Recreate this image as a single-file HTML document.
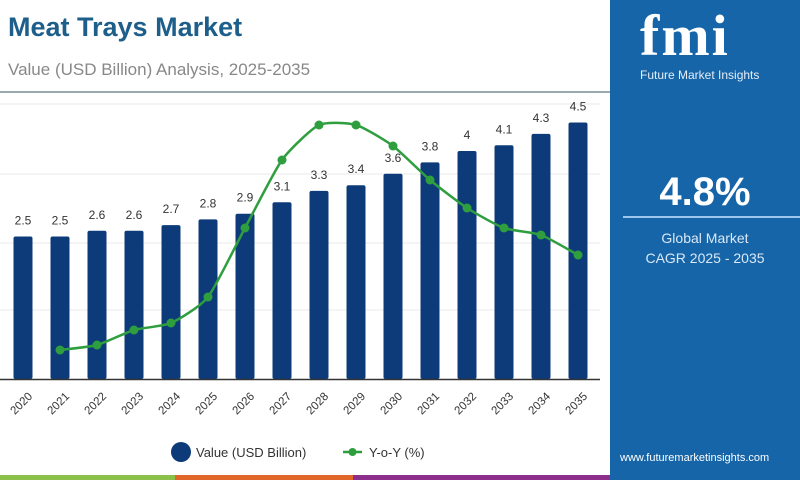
<!DOCTYPE html>
<html><head><meta charset="utf-8">
<style>
body{margin:0;width:800px;height:480px;overflow:hidden;background:#fff;font-family:"Liberation Sans",sans-serif;}
#wrap{position:relative;width:800px;height:480px;}
.t{position:absolute;white-space:nowrap;}
</style></head>
<body>
<div id="wrap">
<div class="t" style="left:8px;top:12px;font-size:27px;font-weight:bold;color:#1d5e8a;">Meat Trays Market</div>
<div class="t" style="left:8px;top:60px;font-size:17px;color:#888;">Value (USD Billion) Analysis, 2025-2035</div>
<div style="position:absolute;left:0;top:91px;width:610px;height:2px;background:#9aa9b0;"></div>
<svg id="chart" width="610" height="480" style="position:absolute;left:0;top:0;"></svg>
<div style="position:absolute;left:610px;top:0;width:190px;height:480px;background:#1565a8;">
  <div class="t" style="left:30px;top:2px;font-size:58px;font-weight:bold;color:#fff;font-family:'Liberation Serif',serif;letter-spacing:2px;">fmi</div>
  <div class="t" style="left:30px;top:68px;font-size:12px;color:#e6eef8;">Future Market Insights</div>
  <div class="t" style="left:0;width:190px;text-align:center;top:170px;font-size:40px;font-weight:bold;color:#fff;">4.8%</div>
  <div style="position:absolute;left:13px;top:216px;width:177px;height:2px;background:#9cc6ee;"></div>
  <div class="t" style="left:0;width:190px;text-align:center;top:228px;font-size:14px;line-height:20px;color:#dbe8f6;">Global Market<br>CAGR 2025 - 2035</div>
  <div class="t" style="left:10px;top:452px;font-size:11px;color:#fff;">www.futuremarketinsights.com</div>
</div>
<div style="position:absolute;left:0;top:475px;width:175px;height:5px;background:#8bc04a;"></div>
<div style="position:absolute;left:175px;top:475px;width:178px;height:5px;background:#e0662a;"></div>
<div style="position:absolute;left:353px;top:475px;width:257px;height:5px;background:#8c2f8c;"></div>
</div>
<script>
const years=["2020","2021","2022","2023","2024","2025","2026","2027","2028","2029","2030","2031","2032","2033","2034","2035"];
const values=[2.5,2.5,2.6,2.6,2.7,2.8,2.9,3.1,3.3,3.4,3.6,3.8,4,4.1,4.3,4.5];
const valueLabels=["2.5","2.5","2.6","2.6","2.7","2.8","2.9","3.1","3.3","3.4","3.6","3.8","4","4.1","4.3","4.5"];
const yoyYears=["2021","2022","2023","2024","2025","2026","2027","2028","2029","2030","2031","2032","2033","2034","2035"];
const yoy=[3.0,3.5,5.0,5.7,8.3,15.2,22.0,25.5,25.5,23.4,20.0,17.2,15.2,14.5,12.5];
const NS="http://www.w3.org/2000/svg";
const svg=document.getElementById('chart');
const x=i=>23+i*37;
const xi=y=>x(years.indexOf(y));
const yv=v=>379-v*57;
const yy=v=>380-v*10;
function mk(t,a){const e=document.createElementNS(NS,t);for(const k in a)e.setAttribute(k,a[k]);svg.appendChild(e);return e;}
[104,174,243,310].forEach(g=>{const l=mk('line',{x1:0,x2:600,y1:g,y2:g,stroke:'#e8e8e8','stroke-width':1});

});
values.forEach((v,i)=>{
 const r=mk('rect',{x:x(i)-9.5,y:yv(v),width:19,height:379-yv(v),fill:'#0d3b7a',rx:2});
 
 
 const t=mk('text',{x:x(i),y:yv(v)-12,'text-anchor':'middle','font-size':12,fill:'#333','font-family':'Liberation Sans'});
 t.textContent=valueLabels[i];
 
 
 const yl=mk('text',{x:0,y:0,'text-anchor':'end','font-size':11.5,fill:'#333','font-family':'Liberation Sans',transform:`translate(${x(i)+10},${397}) rotate(-45)`});
 yl.textContent=years[i];
 
 
});
const ax=mk('line',{x1:0,x2:600,y1:379.5,y2:379.5,stroke:'#333','stroke-width':1.5});


const pts=yoy.map((v,i)=>[xi(yoyYears[i]),yy(v)]);
let d=`M${pts[0][0]},${pts[0][1]}`;
const k=10;
for(let i=0;i<pts.length-1;i++){const p0=pts[Math.max(0,i-1)],p1=pts[i],p2=pts[i+1],p3=pts[Math.min(pts.length-1,i+2)];
 d+=` C${p1[0]+(p2[0]-p0[0])/k},${p1[1]+(p2[1]-p0[1])/k} ${p2[0]-(p3[0]-p1[0])/k},${p2[1]-(p3[1]-p1[1])/k} ${p2[0]},${p2[1]}`;}
const ln=mk('path',{d:d,fill:'none',stroke:'#2e9e3e','stroke-width':2.5});


pts.forEach((p,i)=>{const c=mk('circle',{cx:p[0],cy:p[1],r:4.5,fill:'#2e9e3e'});

});
const lc=mk('circle',{cx:181,cy:452,r:10,fill:'#0d3b7a'});


const lt=mk('text',{x:196,y:457,'font-size':13,fill:'#333','font-family':'Liberation Sans'});lt.textContent='Value (USD Billion)';


const ll=mk('line',{x1:343,x2:362,y1:452,y2:452,stroke:'#2e9e3e','stroke-width':2.5});


const lcc=mk('circle',{cx:352.5,cy:452,r:4,fill:'#2e9e3e'});


const lt2=mk('text',{x:369,y:457,'font-size':13,fill:'#333','font-family':'Liberation Sans'});lt2.textContent='Y-o-Y (%)';


</script>
</body></html>
